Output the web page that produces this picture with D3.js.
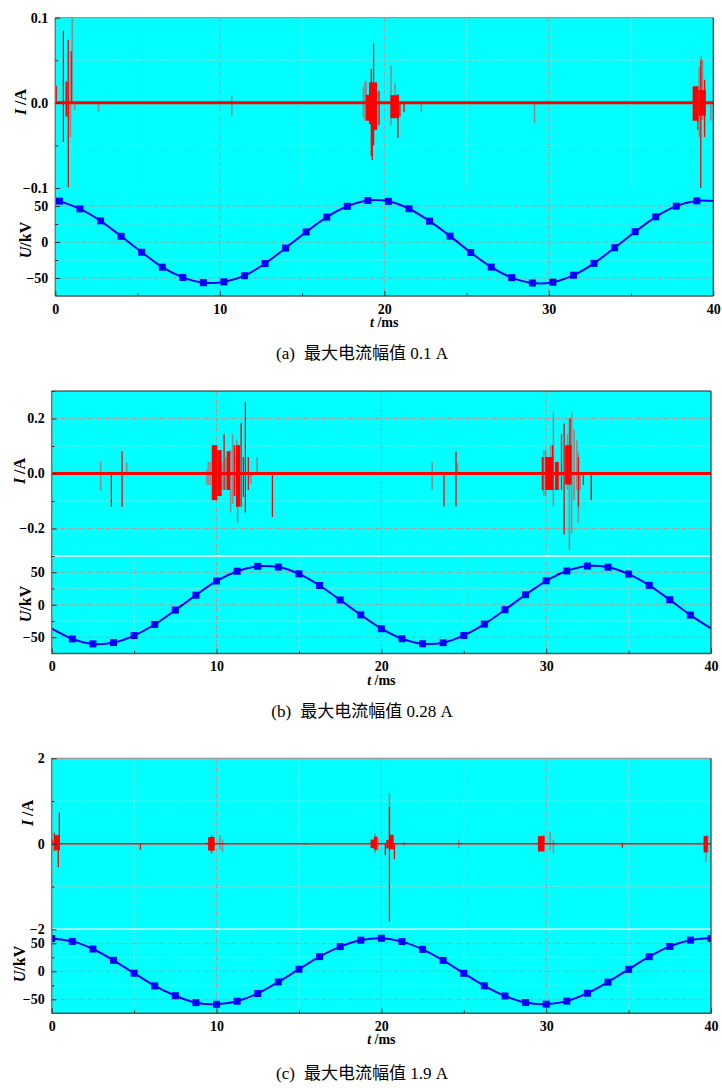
<!DOCTYPE html>
<html>
<head>
<meta charset="utf-8">
<script src="https://cdn.jsdelivr.net/npm/d3@7"></script>
<style>
  body { margin: 0; background: #fff; }
  svg text { font-family: "Liberation Serif", "Times New Roman", "Noto Sans CJK SC", serif; }
  .tick text { font-weight: bold; font-size: 14px; fill: #000; }
</style>
</head>
<body>
<svg id="chart" width="722" height="1088"></svg>
<script>
// ---- shared ticks
var xTicks = [0, 10, 20, 30, 40],
  xMinor = [5, 15, 25, 35],
  uTicks = [-50, 0, 50],
  uMinor = [-75, -25, 25, 75];

// ---- (a) max current 0.1 A
var iTicksA = [-0.1, 0, 0.1], iMinorA = [-0.05, 0.05];
var uTimeA = [0, 0.25, 1.5, 2.75, 4, 5.25, 6.5, 7.75, 9, 10.25, 11.5, 12.75, 14, 15.25, 16.5, 17.75, 19,
  20.25, 21.5, 22.75, 24, 25.25, 26.5, 27.75, 29, 30.25, 31.5, 32.75, 34, 35.25, 36.5, 37.75, 39, 40];
var uA = [57.6, 56.8, 46.0, 29.4, 7.9, -14.2, -35.0, -49.2, -56.6, -55.4, -46.8, -29.9, -8.4, 14.0, 34.6, 49.6, 57.6,
  56.5, 46.2, 29.0, 8.1, -14.6, -34.9, -49.5, -57.0, -55.9, -46.1, -29.6, -8.0, 14.3, 35.0, 49.8, 57.2, 57.0];
// spikes: [t, high, low]; blocks: [t0, t1, high, low]
var grayA = [[0.92, 0, -0.04], [1.03, 0.099, 0], [1.18, 0, -0.009], [2.63, 0, -0.010], [10.73, 0.009, -0.015],
  [18.73, 0.0195, -0.0175], [18.83, 0.025, -0.021], [18.9, 0.025, -0.02], [20.41, 0.044, -0.026], [20.65, 0.023, -0.018],
  [22.25, 0, -0.011], [29.13, 0, -0.024], [39.14, 0.042, -0.04], [39.27, 0.055, -0.018], [39.35, 0.05, -0.02], [39.85, 0, -0.021]];
var redA = [[0.06, 0.02, 0], [0.49, 0.085, -0.046], [0.79, 0.074, -0.099], [0.97, 0.061, 0],
  [19.21, 0.040, -0.062], [19.27, 0.01, -0.067], [19.35, 0.070, -0.050], [19.68, 0.014, -0.026], [20.83, 0.01, -0.041],
  [20.95, 0, -0.016], [21.2, 0, -0.011], [39.24, 0.05, -0.10], [39.47, 0.027, -0.040], [39.05, 0, -0.032]];
var redBlockA = [[0.62, 0.74, 0.025, -0.016], [18.87, 19.07, 0.0094, -0.021], [19.07, 19.21, 0.024, -0.025],
  [19.21, 19.56, 0.024, -0.032], [20.37, 20.89, 0.009, -0.018], [38.74, 39.10, 0.0195, -0.021], [39.10, 39.55, 0.015, -0.015]];

// ---- (b) max current 0.28 A
var iTicksB = [-0.2, 0, 0.2], iMinorB = [-0.3, -0.1, 0.1, 0.3];
var uTimeB = [0, 1.25, 2.5, 3.75, 5, 6.25, 7.5, 8.75, 10, 11.25, 12.5, 13.75, 15, 16.25, 17.5, 18.75, 20,
  21.25, 22.5, 23.75, 25, 26.25, 27.5, 28.75, 30, 31.25, 32.5, 33.75, 35, 36.25, 37.5, 38.75, 40];
var uB = [-36.8, -52.6, -60.2, -58.2, -47.4, -30.4, -8.2, 14.8, 36.6, 51.6, 59.2, 58.0, 47.5, 29.6, 7.3, -15.6, -36.9,
  -52.3, -60.0, -58.4, -47.2, -29.8, -7.6, 15.5, 36.9, 52.0, 59.6, 57.8, 47.2, 29.9, 7.6, -15.9, -36.5];
var grayB = [[2.97, 0.042, -0.061], [4.55, 0.04, 0], [9.40, 0.012, -0.04], [9.5, 0.042, -0.042], [9.62, 0.042, -0.042],
  [10.33, 0.042, -0.06], [10.57, 0.06, -0.06], [10.86, 0.085, -0.142], [10.98, 0.143, -0.11], [11.22, 0.121, -0.097],
  [11.28, 0.085, -0.18], [12.08, 0, -0.036], [12.46, 0.06, 0],
  [23.08, 0.042, -0.06], [24.62, 0.04, 0],
  [29.86, 0.085, -0.082], [29.98, 0.085, -0.082], [30.28, 0.103, -0.06], [30.44, 0.222, -0.121], [30.75, 0.042, -0.06],
  [31.3, 0.143, -0.06], [31.41, 0.202, -0.279], [31.55, 0.222, -0.218], [31.7, 0.161, -0.097], [31.86, 0.121, -0.06],
  [31.95, 0.081, -0.18], [32.06, 0, -0.06]];
var redB = [[3.62, 0, -0.121], [4.27, 0.081, -0.121], [10.46, 0.143, -0.06], [11.08, 0.103, -0.082], [11.49, 0.184, -0.121],
  [11.63, 0.06, -0.085], [11.75, 0.26, -0.142], [11.93, 0.06, -0.06], [13.39, 0, -0.158],
  [23.8, 0, -0.12], [24.53, 0.08, -0.12],
  [30.39, 0.103, -0.06], [30.93, 0.143, -0.06], [31.09, 0.182, -0.222], [31.45, 0.2, -0.04], [31.96, 0.06, -0.121],
  [32.26, 0, -0.042], [32.73, 0, -0.097]];
var redBlockB = [[9.71, 10.05, 0.103, -0.097], [10.05, 10.31, 0.085, -0.082], [10.62, 10.82, 0.081, -0.06],
  [11.18, 11.43, 0.103, -0.121], [29.73, 29.84, 0.06, -0.06], [29.94, 30.44, 0.06, -0.06], [30.54, 30.75, 0.042, -0.06],
  [31.15, 31.55, 0.103, -0.04]];

// ---- (c) max current 1.9 A
var iTicksC = [-2, 0, 2], iMinorC = [-1, 1];
var uTimeC = [0, 1.25, 2.5, 3.75, 5, 6.25, 7.5, 8.75, 10, 11.25, 12.5, 13.75, 15, 16.25, 17.5, 18.75, 20,
  21.25, 22.5, 23.75, 25, 26.25, 27.5, 28.75, 30, 31.25, 32.5, 33.75, 35, 36.25, 37.5, 38.75, 40];
var uC = [58.6, 53.4, 39.8, 19.6, -3.4, -26.1, -43.6, -56.0, -58.9, -53.4, -39.6, -19.0, 3.8, 26.2, 44.1, 55.6, 59.0,
  53.0, 39.2, 19.4, -3.6, -26.0, -44.0, -55.9, -58.7, -53.2, -39.1, -19.3, 3.6, 26.1, 44.4, 55.7, 58.8];
var grayC = [[9.4, 0.03, -0.03], [10.21, 0.2, -0.13], [10.36, 0.1, -0.2], [19.62, 0.24, -0.22], [19.8, 0.14, -0.16],
  [20.49, 1.18, 0], [21.38, 0.05, -0.05], [24.7, 0.1, -0.1], [30.24, 0.28, -0.15], [30.44, 0.1, -0.21],
  [39.7, 0.2, -0.43], [39.8, 0.2, -0.2]];
var redC = [[0.05, 0.1, -0.04], [0.16, 0.26, -0.17], [0.40, 0.2, -0.55], [0.46, 0.73, 0], [5.38, 0, -0.14],
  [9.7, 0.2, -0.22], [15.43, 0, -0.02], [20.24, 0, -0.27], [20.49, 0.86, -1.82], [20.79, 0, -0.36],
  [29.85, 0.2, 0], [34.62, 0, -0.095]];
var redBlockC = [[0.2, 0.5, 0.2, -0.15], [9.49, 9.89, 0.16, -0.16], [19.35, 19.55, 0.1, -0.1], [19.55, 19.75, 0.17, -0.14],
  [20.3, 20.45, 0.09, -0.11], [20.5, 20.75, 0.21, -0.13], [29.5, 29.9, 0.18, -0.18], [39.55, 39.8, 0.18, -0.2]];

var svg = d3.select("#chart");

var panels = [
  { id: "a", left: 55.3, right: 713.3, top: 17.7, mid: 188, bottom: 296,
    iDomain: [-0.1, 0.1], iTicks: iTicksA, iMinor: iMinorA, iFmt: d3.format(".1f"),
    iMajorGrid: [], iMinorGrid: iMinorA, vMinorI: true, vMinorU: false, sep: false, topColor: "#999",
    baseW: 3, uTime: uTimeA, u: uA, markFrom: 1, markTo: 32,
    gray: grayA, red: redA, redBlock: redBlockA,
    iLab: [20, 102], uLab: [25, 240], tag: "(a)", caption: "最大电流幅值 0.1 A", capY: 359 },
  { id: "b", left: 51.7, right: 711, top: 391, mid: 556, bottom: 653.5,
    iDomain: [-0.3, 0.3], iTicks: iTicksB, iMinor: iMinorB, iFmt: d3.format(".1f"),
    iMajorGrid: [-0.2, 0.2], iMinorGrid: [-0.1, 0.1], vMinorI: false, vMinorU: true, sep: true, topColor: "#222",
    baseW: 3.2, uTime: uTimeB, u: uB, markFrom: 1, markTo: 31,
    gray: grayB, red: redB, redBlock: redBlockB,
    iLab: [19, 471], uLab: [25, 604], tag: "(b)", caption: "最大电流幅值 0.28 A", capY: 717 },
  { id: "c", left: 51.7, right: 711, top: 758.3, mid: 929.3, bottom: 1013.3,
    iDomain: [-2, 2], iTicks: iTicksC, iMinor: iMinorC, iFmt: d3.format("d"),
    iMajorGrid: [], iMinorGrid: iMinorC, vMinorI: true, vMinorU: true, sep: true, topColor: "#999",
    baseW: 1.6, uTime: uTimeC, u: uC, markFrom: 0, markTo: 32,
    gray: grayC, red: redC, redBlock: redBlockC,
    iLab: [27, 813], uLab: [19, 964], tag: "(c)", caption: "最大电流幅值 1.9 A", capY: 1079 }
];

var majorGrid = { stroke: "#d48888", dash: "4,2,1,2" },
  minorGrid = { stroke: "#efc4c4", dash: "1,2" };

function minusFmt(f) {
  return function (d) { return f(d).replace("-", "\u2212"); };
}

function hLines(g, vals, y, x0, x1, st) {
  g.selectAll(null).data(vals).join("line")
    .attr("x1", x0).attr("x2", x1)
    .attr("y1", function (d) { return y(d); }).attr("y2", function (d) { return y(d); })
    .attr("stroke", st.stroke).attr("stroke-dasharray", st.dash).attr("stroke-width", 1);
}
function vLines(g, vals, x, y0, y1, st) {
  g.selectAll(null).data(vals).join("line")
    .attr("x1", function (d) { return x(d); }).attr("x2", function (d) { return x(d); })
    .attr("y1", y0).attr("y2", y1)
    .attr("stroke", st.stroke).attr("stroke-dasharray", st.dash).attr("stroke-width", 1);
}

function drawPanel(p) {
  var x = d3.scaleLinear().domain([0, 40]).range([p.left, p.right]);
  var yI = d3.scaleLinear().domain(p.iDomain).range([p.mid, p.top]);
  var yU = d3.scaleLinear().domain([-75, 75]).range([p.bottom, p.mid]);
  var g = svg.append("g");

  g.append("clipPath").attr("id", "clip-" + p.id)
    .append("rect").attr("x", p.left).attr("y", p.top)
    .attr("width", p.right - p.left).attr("height", p.bottom - p.top);

  g.append("rect").attr("x", p.left).attr("y", p.top)
    .attr("width", p.right - p.left).attr("height", p.bottom - p.top)
    .attr("fill", "#00ffff");

  // grid
  var grid = g.append("g");
  hLines(grid, p.iMinorGrid, yI, p.left, p.right, minorGrid);
  hLines(grid, p.iMajorGrid, yI, p.left, p.right, majorGrid);
  hLines(grid, [-25, 25], yU, p.left, p.right, minorGrid);
  hLines(grid, uTicks, yU, p.left, p.right, majorGrid);
  vLines(grid, [10, 20, 30], x, p.top, p.bottom, majorGrid);
  if (p.vMinorI) vLines(grid, xMinor, x, p.top, p.mid, minorGrid);
  if (p.vMinorU) vLines(grid, xMinor, x, p.mid, p.bottom, minorGrid);
  if (p.sep) {
    g.append("line").attr("x1", p.left).attr("x2", p.right)
      .attr("y1", p.mid).attr("y2", p.mid).attr("stroke", "#fff").attr("stroke-width", 1.5);
  }

  // current traces
  var cur = g.append("g").attr("clip-path", "url(#clip-" + p.id + ")");
  cur.selectAll(null).data(p.gray).join("line")
    .attr("x1", function (d) { return x(d[0]); }).attr("x2", function (d) { return x(d[0]); })
    .attr("y1", function (d) { return yI(d[1]); }).attr("y2", function (d) { return yI(d[2]); })
    .attr("stroke", "#8c8c8c").attr("stroke-width", 1.6);
  cur.append("line")
    .attr("x1", x(0)).attr("x2", x(40)).attr("y1", yI(0)).attr("y2", yI(0))
    .attr("stroke", "#ff0000").attr("stroke-width", p.baseW);
  cur.selectAll(null).data(p.redBlock).join("rect")
    .attr("x", function (d) { return x(d[0]); })
    .attr("width", function (d) { return x(d[1]) - x(d[0]); })
    .attr("y", function (d) { return yI(d[2]); })
    .attr("height", function (d) { return yI(d[3]) - yI(d[2]); })
    .attr("fill", "#ff0000");
  cur.selectAll(null).data(p.red).join("line")
    .attr("x1", function (d) { return x(d[0]); }).attr("x2", function (d) { return x(d[0]); })
    .attr("y1", function (d) { return yI(d[1]); }).attr("y2", function (d) { return yI(d[2]); })
    .attr("stroke", "#ff0000").attr("stroke-width", 1.3);

  // voltage
  var pts = p.uTime.map(function (t, i) { return [t, p.u[i]]; });
  var line = d3.line()
    .x(function (d) { return x(d[0]); })
    .y(function (d) { return yU(d[1]); })
    .curve(d3.curveCardinal.tension(0.2));
  cur.append("path").datum(pts).attr("d", line)
    .attr("fill", "none").attr("stroke", "#0000ff").attr("stroke-width", 2);
  cur.selectAll(null).data(pts.slice(p.markFrom, p.markTo + 1)).join("rect")
    .attr("x", function (d) { return x(d[0]) - 3.5; })
    .attr("y", function (d) { return yU(d[1]) - 3.5; })
    .attr("width", 7).attr("height", 7).attr("fill", "#0000ff");

  // frame
  g.append("line").attr("x1", p.left).attr("x2", p.right).attr("y1", p.top).attr("y2", p.top)
    .attr("stroke", p.topColor).attr("stroke-width", 1.2);
  g.append("line").attr("x1", p.right).attr("x2", p.right).attr("y1", p.top).attr("y2", p.bottom)
    .attr("stroke", "#333").attr("stroke-width", 1.2);
  g.append("line").attr("x1", p.left).attr("x2", p.right).attr("y1", p.bottom).attr("y2", p.bottom)
    .attr("stroke", "#555").attr("stroke-width", 1.5);
  g.append("line").attr("x1", p.left).attr("x2", p.left).attr("y1", p.top).attr("y2", p.bottom)
    .attr("stroke", "#777").attr("stroke-width", 1.5);

  // axes
  function axisStyle(a) {
    a.select(".domain").remove();
    a.selectAll(".tick line").attr("stroke", "#333");
  }
  g.append("g").attr("transform", "translate(" + p.left + ",0)")
    .call(d3.axisLeft(yI).tickValues(p.iTicks).tickFormat(minusFmt(p.iFmt)).tickSize(-5).tickPadding(7))
    .call(axisStyle);
  g.append("g").attr("transform", "translate(" + p.left + ",0)")
    .call(d3.axisLeft(yI).tickValues(p.iMinor).tickFormat("").tickSize(-3))
    .call(axisStyle);
  g.append("g").attr("transform", "translate(" + p.left + ",0)")
    .call(d3.axisLeft(yU).tickValues(uTicks).tickFormat(minusFmt(d3.format("d"))).tickSize(-5).tickPadding(7))
    .call(axisStyle);
  g.append("g").attr("transform", "translate(" + p.left + ",0)")
    .call(d3.axisLeft(yU).tickValues([-25, 25]).tickFormat("").tickSize(-3))
    .call(axisStyle);
  g.append("g").attr("transform", "translate(0," + p.bottom + ")")
    .call(d3.axisBottom(x).tickValues(xTicks).tickSize(-5).tickPadding(8))
    .call(axisStyle);
  g.append("g").attr("transform", "translate(0," + p.bottom + ")")
    .call(d3.axisBottom(x).tickValues(xMinor).tickFormat("").tickSize(-3))
    .call(axisStyle);

  // titles
  var it = g.append("text")
    .attr("transform", "translate(" + p.iLab[0] + "," + p.iLab[1] + ") rotate(-90)")
    .attr("text-anchor", "middle").attr("dy", "0.35em")
    .style("font-size", "16px").style("font-weight", "bold");
  it.append("tspan").style("font-style", "italic").text("I");
  it.append("tspan").text(" /A");
  var ut = g.append("text")
    .attr("transform", "translate(" + p.uLab[0] + "," + p.uLab[1] + ") rotate(-90)")
    .attr("text-anchor", "middle").attr("dy", "0.35em")
    .style("font-size", "16px").style("font-weight", "bold");
  ut.append("tspan").style("font-style", "italic").text("U");
  ut.append("tspan").text("/kV");
  var xt = g.append("text")
    .attr("x", (p.left + p.right) / 2).attr("y", p.bottom + 31)
    .attr("text-anchor", "middle").style("font-size", "14px").style("font-weight", "bold");
  xt.append("tspan").style("font-style", "italic").text("t");
  xt.append("tspan").text(" /ms");

  var cap = g.append("text").attr("x", 362).attr("y", p.capY)
    .attr("text-anchor", "middle").style("font-size", "17px");
  cap.append("tspan").text(p.tag);
  cap.append("tspan").attr("dx", 9).text(p.caption);
}

panels.forEach(drawPanel);
</script>
</body>
</html>
